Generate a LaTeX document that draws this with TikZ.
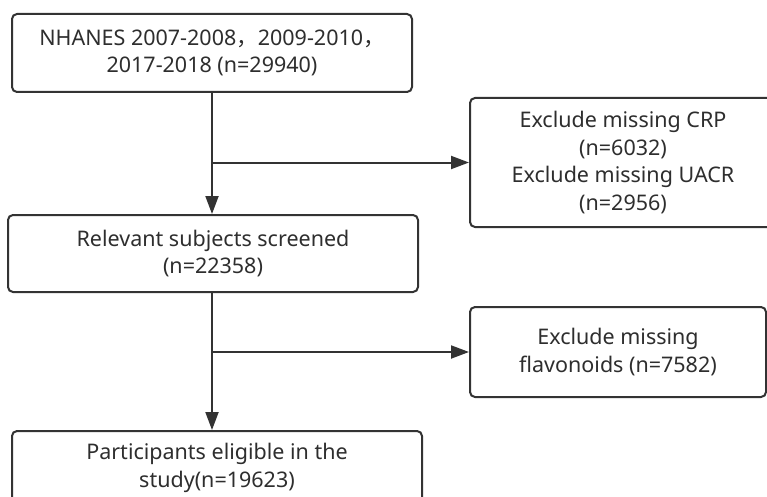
\documentclass[tikz,border=0pt]{standalone}
\usepackage{fontspec}
\setmainfont{Noto Sans}
\newfontfamily\cjk{Noto Sans CJK SC}
\usetikzlibrary{arrows.meta}
\definecolor{ln}{HTML}{333333}
\definecolor{tx}{HTML}{2E2E2E}
\begin{document}
\begin{tikzpicture}[x=1pt,y=-1pt,
  box/.style={draw=ln,line width=2pt,rounded corners=5pt,fill=white,text=tx,
    align=center,inner sep=0pt,font=\fontsize{21.5}{27.5}\selectfont},
  arr/.style={draw=ln,line width=2pt,-{Triangle[length=18pt,width=13pt]}}]
\useasboundingbox (0,0) rectangle (767,497);
\node[box,minimum width=400pt,minimum height=78pt] (b1) at (212,53)
  {NHANES 2007-2008{\cjk ，}2009-2010{\cjk ，}\\2017-2018 (n=29940)};
\node[box,minimum width=306pt,minimum height=129pt] (b2) at (623,162.5)
  {\fontsize{21.5}{26.5}\selectfont Exclude missing CRP\\(n=6032)\\Exclude missing UACR\\(n=2956)};
\node[box,minimum width=410pt,minimum height=77pt] (b3) at (213,253.5)
  {Relevant subjects screened\\(n=22358)};
\node[box,minimum width=296pt,minimum height=90pt] (b4) at (618,352)
  {Exclude missing\\flavonoids (n=7582)};
\node[box,minimum width=410pt,minimum height=74pt] (b5) at (217,468)
  {Participants eligible in the\\study(n=19623)};
\draw[arr] (b1.south) -- (b1.south |- b3.north);
\draw[arr] (b1.south |- b2.west) -- (b2.west);
\draw[arr] (b1.south |- b3.south) -- (b1.south |- b5.north);
\draw[arr] (b1.south |- b4.west) -- (b4.west);
\end{tikzpicture}
\end{document}
